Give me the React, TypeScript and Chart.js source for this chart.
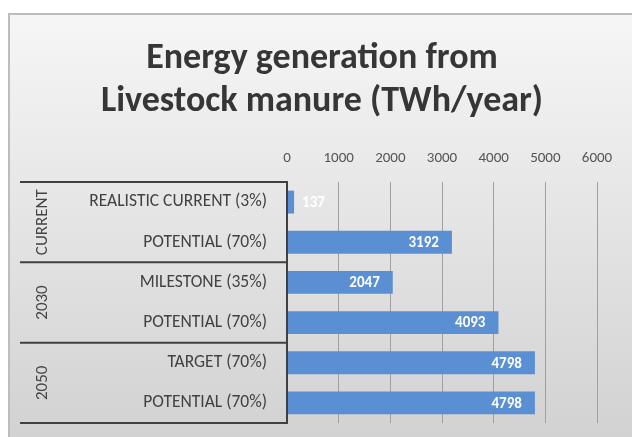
import React, { useEffect, useRef } from "react";
import { Chart, registerables } from "chart.js";

Chart.register(...registerables);

const titleLines = ["Energy generation from", "Livestock manure (TWh/year)"];
const categories = [
  "REALISTIC CURRENT (3%)",
  "POTENTIAL (70%)",
  "MILESTONE (35%)",
  "POTENTIAL (70%)",
  "TARGET (70%)",
  "POTENTIAL (70%)",
];
const values = [137, 3192, 2047, 4093, 4798, 4798];
const groupNames = ["CURRENT", "2030", "2050"];
const groupSizes = [2, 2, 2];
const axisMin = 0;
const axisMax = 6000;
const axisStep = 1000;

const FONT = "Carlito, Lato, 'Open Sans', sans-serif";
const BAR_COLOR = "#5b8fd3";

const decorPlugin = {
  id: "decor",
  beforeDraw(chart: any) {
    const { ctx, width, height } = chart;
    ctx.save();
    ctx.fillStyle = "#ffffff";
    ctx.fillRect(0, 0, width, height);
    const g = ctx.createLinearGradient(0, 13, 0, height);
    g.addColorStop(0, "#f6f6f6");
    g.addColorStop(0.5, "#e4e4e4");
    g.addColorStop(1, "#d2d2d2");
    ctx.fillStyle = g;
    ctx.fillRect(8, 13, width - 8, height - 13);
    ctx.strokeStyle = "#bdbdbd";
    ctx.lineWidth = 2;
    ctx.beginPath();
    ctx.moveTo(9, height);
    ctx.lineTo(9, 14);
    ctx.lineTo(width, 14);
    ctx.stroke();
    // title
    ctx.fillStyle = "#363636";
    ctx.font = `bold 36px ${FONT}`;
    ctx.textAlign = "center";
    ctx.textBaseline = "alphabetic";
    ctx.fillText(titleLines[0], 322, 68);
    ctx.fillText(titleLines[1], 322, 111);
    ctx.restore();
  },
  afterDraw(chart: any) {
    const { ctx, chartArea } = chart;
    const y = chart.scales.y;
    const x = chart.scales.x;
    const left = 20;
    const right = x.getPixelForValue(0);
    ctx.save();
    // box lines
    ctx.strokeStyle = "#404040";
    ctx.lineWidth = 2;
    const bounds: number[] = [chartArea.top];
    let idx = 0;
    groupSizes.forEach((n, gi) => {
      idx += n;
      if (gi < groupSizes.length - 1) {
        bounds.push((y.getPixelForValue(idx - 1) + y.getPixelForValue(idx)) / 2);
      }
    });
    bounds.push(chartArea.bottom);
    ctx.beginPath();
    bounds.forEach((b) => {
      ctx.moveTo(left, b);
      ctx.lineTo(right, b);
    });
    ctx.moveTo(right, chartArea.top - 1);
    ctx.lineTo(right, chartArea.bottom + 1);
    ctx.stroke();
    // group labels
    ctx.fillStyle = "#444444";
    ctx.font = `17px ${FONT}`;
    ctx.textAlign = "center";
    ctx.textBaseline = "middle";
    groupNames.forEach((name, gi) => {
      const cy = (bounds[gi] + bounds[gi + 1]) / 2;
      ctx.save();
      ctx.translate(43, cy);
      ctx.rotate(-Math.PI / 2);
      ctx.fillText(name, 0, 0);
      ctx.restore();
    });
    // data labels
    ctx.font = `bold 15px ${FONT}`;
    ctx.fillStyle = "#ffffff";
    ctx.textBaseline = "middle";
    const meta = chart.getDatasetMeta(0);
    meta.data.forEach((bar: any, i: number) => {
      const txt = String(values[i]);
      const w = ctx.measureText(txt).width;
      const barW = bar.x - bar.base;
      if (barW > w + 20) {
        ctx.textAlign = "right";
        ctx.fillText(txt, bar.x - 13, bar.y + 1);
      } else {
        ctx.textAlign = "left";
        ctx.fillText(txt, bar.x + 8, bar.y + 1);
      }
    });
    ctx.restore();
  },
};

export default function App() {
  const ref = useRef<HTMLCanvasElement>(null);
  useEffect(() => {
    if (!ref.current) return;
    const chart = new Chart(ref.current, {
      type: "bar",
      data: {
        labels: categories,
        datasets: [
          {
            data: values,
            backgroundColor: BAR_COLOR,
            borderWidth: 0,
            barPercentage: 0.57,
            categoryPercentage: 1,
          },
        ],
      },
      options: {
        indexAxis: "y",
        responsive: false,
        animation: false,
        devicePixelRatio: 1,
        layout: { padding: { left: 8, right: 35, top: 134, bottom: 14 } },
        plugins: { legend: { display: false }, title: { display: false }, tooltip: { enabled: false } },
        scales: {
          x: {
            position: "top",
            min: axisMin,
            max: axisMax,
            ticks: {
              stepSize: axisStep,
              color: "#555555",
              font: { family: FONT, size: 15 },
              padding: 15,
              callback: (v: any) => String(v),
            },
            grid: { color: "#a0a0a0", lineWidth: 1, drawTicks: false },
            border: { display: false },
          },
          y: {
            ticks: {
              color: "#424242",
              font: { family: FONT, size: 17.5 },
              padding: 20,
            },
            grid: { display: false, drawTicks: false },
            border: { display: false },
            afterFit(scale: any) {
              scale.width = 279;
              scale.paddingTop = 0;
              scale.paddingBottom = 0;
            },
          },
        },
      },
      plugins: [decorPlugin],
    } as any);
    return () => chart.destroy();
  }, []);
  return (
    <div style={{ position: "fixed", left: 0, top: 0, width: 632, height: 437 }}>
      <canvas ref={ref} width={632} height={437} style={{ display: "block", width: 632, height: 437 }} />
    </div>
  );
}
